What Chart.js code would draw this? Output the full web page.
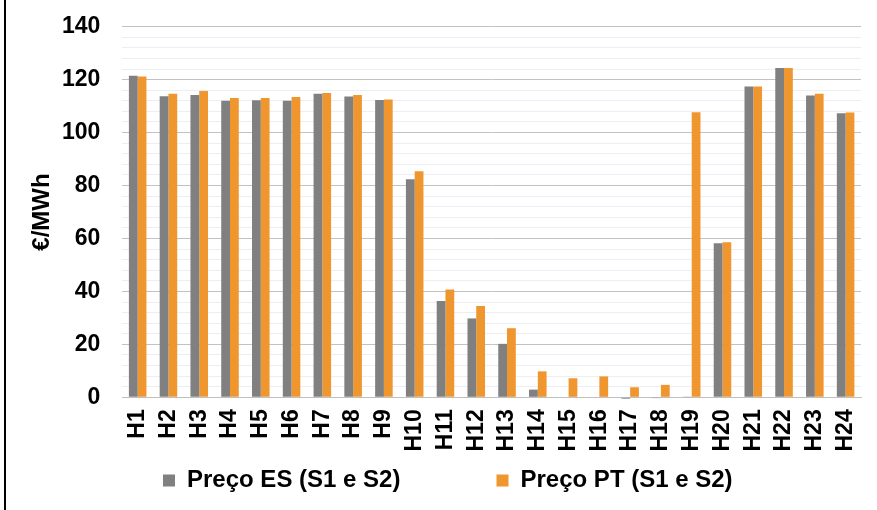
<!DOCTYPE html>
<html>
<head>
<meta charset="utf-8">
<script src="https://cdn.jsdelivr.net/npm/chart.js@4.4.1/dist/chart.umd.min.js"></script>
<style>
  html, body { margin: 0; padding: 0; background: #ffffff; }
  #wrap { position: relative; width: 877px; height: 510px; overflow: hidden; }
  #frame { position: absolute; left: 4px; top: 0; width: 2px; height: 510px; background: #000; }
  canvas { position: absolute; left: 0; top: 0; }
</style>
</head>
<body>
<div id="wrap">
  <canvas id="c" width="877" height="510"></canvas>
  <div id="frame"></div>
</div>
<script>
// ---- data ----
const hours = ['H1','H2','H3','H4','H5','H6','H7','H8','H9','H10','H11','H12',
               'H13','H14','H15','H16','H17','H18','H19','H20','H21','H22','H23','H24'];
const seriesNames = ['Preço ES (S1 e S2)', 'Preço PT (S1 e S2)'];
const precoES = [121.5,113.7,114.2,112.0,112.2,112.0,114.7,113.6,112.3,82.4,36.4,29.8,
                 20.2,2.9,0,0,-0.5,-0.3,0.1,58.2,117.4,124.4,114.0,107.3];
const precoPT = [121.2,114.7,115.7,113.1,113.1,113.4,115.0,114.2,112.5,85.4,40.7,34.5,
                 26.1,9.8,7.2,7.9,3.8,4.7,107.7,58.6,117.4,124.4,114.7,107.6];
const yTickLabels = [0,20,40,60,80,100,120,140];
const yAxisTitle = '€/MWh';

// ---- styling ----
const FAMILY = '"Liberation Sans", Arial, sans-serif';
const FS = 23;      // tick labels
const LFS = 24;     // legend + axis title
const GREY = '#808080';
const ORANGE = '#F0962F';
const MAJOR = '#c2c2c2';
const MINOR = '#eceef4';

// legend spacing helper (positions the built-in legend items like the reference)
const LEG = { x1: 163, x2: 496.5, mid: 480.5, box: 12 };
const legendSpacer = {
  id: 'legendSpacer',
  beforeDraw(chart) {
    const lg = chart.legend;
    if (!lg || !lg.legendItems || lg.legendItems.length < 2) return;
    const ctx = chart.ctx;
    ctx.save();
    ctx.font = 'bold ' + LFS + 'px ' + FAMILY;
    const w = lg.legendItems.map(it => LEG.box + LFS / 2 + ctx.measureText(it.text).width);
    ctx.restore();
    const lo = lg.options.labels;
    const p0 = lo.padding;
    const P = LEG.x2 - LEG.x1 - w[0];
    const L0 = w[0] + w[1] + 2 * p0;
    lg._savedPos = { left: lg.left, right: lg.right, top: lg.top, p0: p0 };
    const R = chart.width * 10;
    lg.right = R;
    lg.left = 2 * LEG.x1 - P - R + L0;
    lg.top = LEG.mid - LFS / 2 - P;
    lo.padding = P;
  },
  afterDraw(chart) {
    const lg = chart.legend;
    if (!lg || !lg._savedPos) return;
    const s = lg._savedPos;
    lg.left = s.left; lg.right = s.right; lg.top = s.top;
    lg.options.labels.padding = s.p0;
    lg._savedPos = null;
  }
};

new Chart(document.getElementById('c'), {
  type: 'bar',
  data: {
    labels: hours,
    datasets: [
      { label: seriesNames[0], data: precoES, backgroundColor: GREY, borderWidth: 0, clip: false },
      { label: seriesNames[1], data: precoPT, backgroundColor: ORANGE, borderWidth: 0, clip: false }
    ]
  },
  options: {
    responsive: false,
    devicePixelRatio: 1,
    animation: false,
    layout: { padding: { left: 10, right: 16, top: 26.7, bottom: 2.5 } },
    datasets: { bar: { categoryPercentage: 0.57, barPercentage: 1.0 } },
    scales: {
      x: {
        grid: { display: false, drawTicks: false },
        border: { display: true, color: '#bfbfbf', width: 1 },
        ticks: {
          color: '#000',
          font: { family: FAMILY, size: FS, weight: 'bold', lineHeight: 0.4 },
          minRotation: 90, maxRotation: 90,
          autoSkip: false,
          padding: 12
        }
      },
      y: {
        min: 0, max: 140,
        grid: {
          drawTicks: false,
          color: ctx => (ctx.tick && yTickLabels.includes(Math.round(ctx.tick.value))) ? MAJOR : MINOR,
          lineWidth: 1
        },
        border: { display: false },
        title: {
          display: true, text: yAxisTitle, color: '#000',
          font: { family: FAMILY, size: LFS, weight: 'bold' },
          padding: { top: 18.1, bottom: -17 }
        },
        ticks: {
          stepSize: 4,
          autoSkip: false,
          color: '#000',
          padding: 22,
          font: { family: FAMILY, size: FS, weight: 'bold', lineHeight: 0.4 },
          callback: v => yTickLabels.includes(Math.round(v)) ? String(Math.round(v)) : ''
        }
      }
    },
    plugins: {
      tooltip: { enabled: false },
      legend: {
        position: 'bottom',
        labels: {
          color: '#000',
          font: { family: FAMILY, size: LFS, weight: 'bold' },
          boxWidth: 12, boxHeight: 12,
          padding: 10
        }
      }
    }
  },
  plugins: [legendSpacer]
});
</script>
</body>
</html>
